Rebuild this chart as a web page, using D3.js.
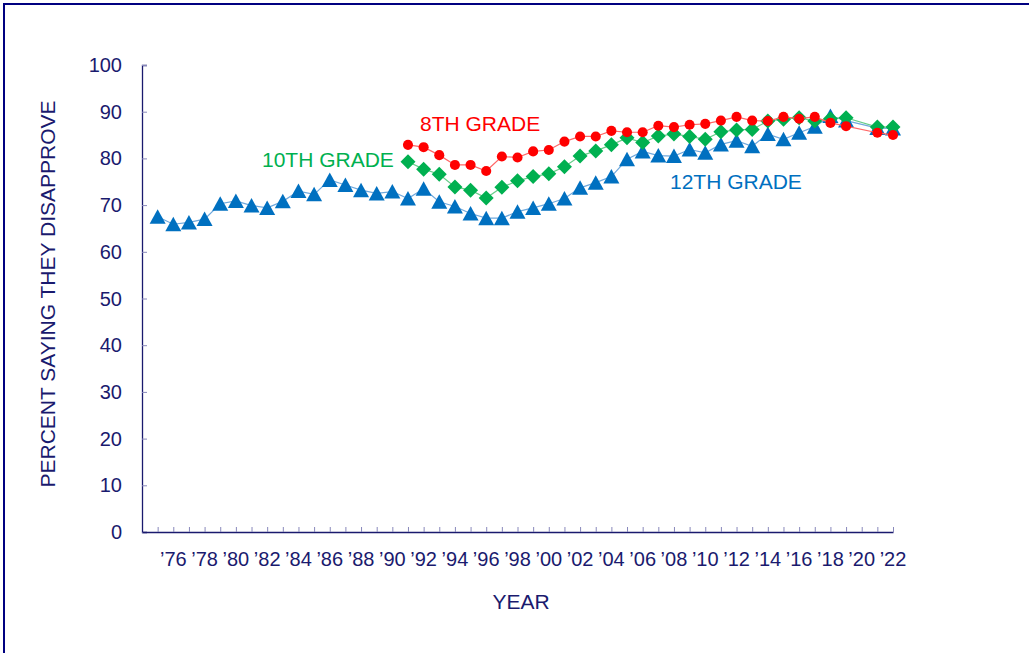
<!DOCTYPE html>
<html>
<head>
<meta charset="utf-8">
<script src="https://cdn.jsdelivr.net/npm/d3@7"></script>
<style>
  body { margin: 0; background: #fff; }
  svg { display: block; font-family: "Liberation Sans", Arial, sans-serif; }
</style>
</head>
<body>
<svg id="chart" width="1029" height="653"></svg>
<script>
// years 1975..2022, null = no survey point
let years = d3.range(1975, 2023);

let grade12 = [67.5, 65.9, 66.3, 67.0, 70.3, 70.9, 69.9, 69.4, 70.8, 73.0,
  72.3, 75.4, 74.3, 73.2, 72.5, 72.9, 71.4, 73.5, 70.7, 69.7,
  68.2, 67.2, 67.2, 68.6, 69.4, 70.3, 71.4, 73.7, 74.8, 76.1,
  79.8, 81.5, 80.6, 80.5, 81.9, 81.2, 83.0, 83.8, 82.6, 85.2,
  84.1, 85.5, 86.8, 89.1, 88.1, null, 86.5, 86.4];

let grade10 = [null, null, null, null, null, null, null, null, null, null,
  null, null, null, null, null, null, 79.3, 77.7, 76.6, 73.9,
  73.2, 71.5, 73.8, 75.2, 76.1, 76.7, 78.2, 80.5, 81.6, 82.9,
  84.4, 83.4, 84.8, 85.2, 84.7, 84.1, 85.7, 86.1, 86.2, 88.0,
  88.4, 88.7, 88.0, 88.5, 88.7, null, 86.7, 86.7];

let grade8 = [null, null, null, null, null, null, null, null, null, null,
  null, null, null, null, null, null, 82.9, 82.4, 80.7, 78.6,
  78.6, 77.3, 80.4, 80.2, 81.5, 81.8, 83.6, 84.7, 84.7, 85.9,
  85.6, 85.6, 87.0, 86.7, 87.2, 87.4, 88.1, 88.9, 88.1, 88.0,
  88.9, 88.5, 88.9, 87.6, 86.9, null, 85.5, 85.0];

let yTicks = [0, 10, 20, 30, 40, 50, 60, 70, 80, 90, 100];
let xLabelYears = d3.range(1976, 2023, 2);

const navy = '#1a1a6e';
const svg = d3.select('#chart');

// outer frame
svg.append('rect')
  .attr('x', 4).attr('y', 4)
  .attr('width', 1060).attr('height', 680)
  .attr('fill', 'none')
  .attr('stroke', '#000080')
  .attr('stroke-width', 2);

const x = d3.scaleLinear().domain([1974, 2022]).range([142, 893]);
const y = d3.scaleLinear().domain([0, 100]).range([532, 65]);

// y axis, ticks pointing inward
const yAxis = svg.append('g')
  .attr('transform', 'translate(142,0)')
  .call(d3.axisRight(y).tickValues(yTicks).tickSize(5).tickFormat(''));
yAxis.select('.domain').attr('stroke', navy).attr('stroke-width', 1.3);
yAxis.selectAll('.tick line').attr('stroke', '#8888bb');

svg.append('g').selectAll('text')
  .data(yTicks)
  .join('text')
  .attr('x', 122)
  .attr('y', d => y(d) + 7)
  .attr('text-anchor', 'end')
  .attr('font-size', 20)
  .attr('fill', navy)
  .text(d => d);

// x axis, one tick per year, pointing up
const xAxis = svg.append('g')
  .attr('transform', 'translate(0,532)')
  .call(d3.axisTop(x).tickValues(years).tickSize(5).tickSizeOuter(0).tickFormat(''));
xAxis.select('.domain').attr('stroke', navy).attr('stroke-width', 1.3);
xAxis.selectAll('.tick line').attr('stroke', '#8888bb');

svg.append('g').selectAll('text')
  .data(xLabelYears)
  .join('text')
  .attr('x', d => x(d))
  .attr('y', 566)
  .attr('text-anchor', 'middle')
  .attr('font-size', 20)
  .attr('fill', navy)
  .text(d => '\u2019' + String(d).slice(2));

// axis titles
svg.append('text')
  .attr('x', 521).attr('y', 609)
  .attr('text-anchor', 'middle')
  .attr('font-size', 21)
  .attr('fill', navy)
  .text('YEAR');

svg.append('text')
  .attr('transform', 'translate(55,294) rotate(-90)')
  .attr('text-anchor', 'middle')
  .attr('font-size', 21)
  .attr('fill', navy)
  .text('PERCENT SAYING THEY DISAPPROVE');

// marker shapes centred on their box, like the spreadsheet markers
const triangle = 'M0,-7.5L8,7L-8,7Z';
const diamond = 'M0,-7.5L7.5,0L0,7.5L-7.5,0Z';
const circle = d3.symbol().type(d3.symbolCircle).size(80)();

const series = [
  { name: '12TH GRADE', values: grade12, color: '#0070c0', line: '#6fa8dc', shape: triangle, lx: 670, ly: 189 },
  { name: '10TH GRADE', values: grade10, color: '#00b050', line: '#66cc88', shape: diamond, lx: 262, ly: 167 },
  { name: '8TH GRADE', values: grade8, color: '#ff0000', line: '#ff6666', shape: circle, lx: 420, ly: 131 },
];

const line = d3.line()
  .x(d => x(d.year))
  .y(d => y(d.value));

series.forEach(s => {
  let pts = years.map((yr, i) => ({ year: yr, value: s.values[i] }))
    .filter(d => d.value != null);

  svg.append('path')
    .attr('d', line(pts))
    .attr('fill', 'none')
    .attr('stroke', s.line)
    .attr('stroke-width', 1.2);

  svg.append('g').selectAll('path')
    .data(pts)
    .join('path')
    .attr('transform', d => `translate(${x(d.year)},${y(d.value)})`)
    .attr('d', s.shape)
    .attr('fill', s.color);

  svg.append('text')
    .attr('x', s.lx).attr('y', s.ly)
    .attr('font-size', 21)
    .attr('fill', s.color)
    .text(s.name);
});
</script>
</body>
</html>
